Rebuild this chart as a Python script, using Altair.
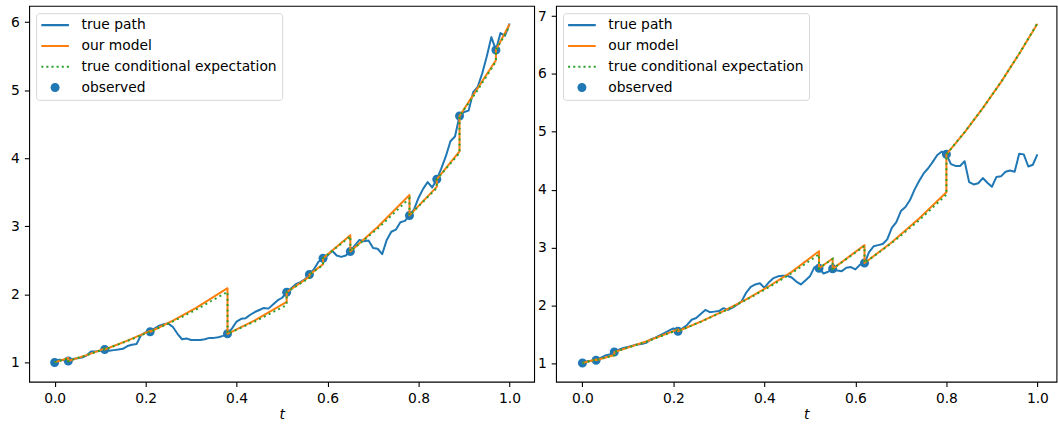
import altair as alt
import pandas as pd

# ---------------- data ----------------
T_GRID = [round(i * 0.01, 2) for i in range(101)]

LEFT_PATH = [1.00, 1.04, 1.03, 1.02, 1.05, 1.06, 1.07, 1.10, 1.16, 1.16,
             1.17, 1.19, 1.17, 1.18, 1.19, 1.20, 1.24, 1.26, 1.27, 1.40,
             1.44, 1.45, 1.50, 1.54, 1.56, 1.57, 1.52, 1.42, 1.34, 1.35,
             1.33, 1.33, 1.33, 1.34, 1.36, 1.36, 1.37, 1.39, 1.42, 1.50,
             1.60, 1.64, 1.65, 1.70, 1.74, 1.77, 1.80, 1.79, 1.85, 1.91,
             1.95, 2.03, 2.09, 2.15, 2.18, 2.22, 2.29, 2.37, 2.48, 2.53,
             2.57, 2.64, 2.57, 2.55, 2.57, 2.63, 2.72, 2.80, 2.78, 2.79,
             2.68, 2.67, 2.59, 2.80, 2.92, 2.95, 3.06, 3.08, 3.16, 3.25,
             3.42, 3.55, 3.65, 3.57, 3.69, 3.85, 4.03, 4.25, 4.32, 4.62,
             4.68, 4.70, 4.97, 5.05, 5.25, 5.50, 5.78, 5.59, 5.84, 5.80,
             5.98]
LEFT_OBS_T = [0.0, 0.03, 0.11, 0.21, 0.38, 0.51, 0.56, 0.59, 0.65, 0.78, 0.84, 0.89, 0.97]
LEFT_OBS_V = [1.00, 1.02, 1.19, 1.45, 1.42, 2.03, 2.29, 2.53, 2.63, 3.16, 3.69, 4.62, 5.59]
LEFT_SEG_T = [0.0, 0.03, 0.03, 0.07, 0.11, 0.11, 0.16, 0.21, 0.21, 0.26, 0.31, 0.38,
              0.38, 0.44, 0.51, 0.51, 0.56, 0.56, 0.59, 0.59, 0.65, 0.65, 0.71, 0.78,
              0.78, 0.84, 0.84, 0.89, 0.89, 0.93, 0.97, 0.97, 1.0]
LEFT_MODEL = [1.0, 1.065, 1.02, 1.107, 1.202, 1.19, 1.32, 1.462, 1.45, 1.615, 1.798, 2.09,
              1.42, 1.616, 1.89, 2.03, 2.26, 2.29, 2.443, 2.53, 2.87, 2.63, 2.99, 3.46,
              3.16, 3.58, 3.69, 4.10, 4.62, 5.03, 5.44, 5.59, 5.97]
LEFT_COND = [1.0, 1.062, 1.02, 1.105, 1.197, 1.19, 1.315, 1.453, 1.45, 1.602, 1.771, 2.037,
             1.42, 1.601, 1.842, 2.03, 2.243, 2.29, 2.432, 2.53, 2.853, 2.63, 2.965, 3.411,
             3.16, 3.563, 3.69, 4.078, 4.62, 5.005, 5.422, 5.59, 5.936]

RIGHT_PATH = [1.00, 1.03, 1.04, 1.05, 1.09, 1.13, 1.15, 1.19, 1.23, 1.26,
              1.28, 1.30, 1.32, 1.33, 1.35, 1.41, 1.44, 1.48, 1.52, 1.56,
              1.60, 1.55, 1.60, 1.66, 1.75, 1.78, 1.85, 1.92, 1.88, 1.89,
              1.90, 1.95, 1.92, 1.96, 2.01, 2.07, 2.22, 2.32, 2.36, 2.38,
              2.30, 2.40, 2.47, 2.50, 2.51, 2.51, 2.48, 2.41, 2.36, 2.43,
              2.50, 2.66, 2.64, 2.55, 2.58, 2.63, 2.60, 2.59, 2.65, 2.66,
              2.62, 2.70, 2.73, 2.92, 3.02, 3.04, 3.06, 3.14, 3.34, 3.44,
              3.63, 3.70, 3.82, 4.00, 4.15, 4.28, 4.37, 4.48, 4.60, 4.66,
              4.61, 4.44, 4.41, 4.41, 4.49, 4.13, 4.09, 4.11, 4.20, 4.12,
              4.05, 4.22, 4.23, 4.31, 4.33, 4.31, 4.62, 4.61, 4.40, 4.43,
              4.61]
RIGHT_OBS_T = [0.0, 0.03, 0.07, 0.21, 0.52, 0.55, 0.62, 0.80]
RIGHT_OBS_V = [1.00, 1.05, 1.19, 1.55, 2.64, 2.63, 2.73, 4.61]
RIGHT_SEG_T = [0.0, 0.03, 0.03, 0.07, 0.07, 0.14, 0.21, 0.21, 0.26, 0.31, 0.36, 0.41, 0.46,
               0.52, 0.52, 0.55, 0.55, 0.62, 0.62, 0.68, 0.74, 0.80, 0.80, 0.84, 0.88,
               0.92, 0.96, 1.0]
RIGHT_MODEL = [1.0, 1.063, 1.05, 1.139, 1.19, 1.373, 1.583, 1.55, 1.716, 1.900, 2.103, 2.329,
               2.578, 2.935, 2.64, 2.808, 2.63, 3.04, 2.73, 3.09, 3.50, 3.955, 4.61, 4.99,
               5.41, 5.86, 6.35, 6.87]
RIGHT_COND = [1.0, 1.062, 1.05, 1.137, 1.19, 1.369, 1.575, 1.55, 1.713, 1.893, 2.092, 2.312,
              2.556, 2.881, 2.64, 2.803, 2.63, 3.024, 2.73, 3.078, 3.470, 3.913, 4.61, 4.994,
              5.410, 5.861, 6.348, 6.877]

SERIES = ["true path", "our model", "true conditional expectation", "observed"]
X_TICKS = [0.0, 0.2, 0.4, 0.6, 0.8, 1.0]

BLUE, ORANGE, GREEN = "#1f77b4", "#ff7f0e", "#2ca02c"
COLORS = [BLUE, ORANGE, GREEN, BLUE]

# legend / marker glyphs (unit coordinates, scaled by sqrt(size)/2)
LINE_GLYPH = "M-1,-0.075H1V0.075H-1Z"
DOT_GLYPH = "".join(
    f"M{c - 0.075:.3f},-0.075H{c + 0.075:.3f}V0.075H{c - 0.075:.3f}Z"
    for c in [-0.925, -0.555, -0.185, 0.185, 0.555, 0.925]
)
R = 0.325
K = round(0.5523 * R, 4)
CIRCLE_GLYPH = (f"M{R},0C{R},{K},{K},{R},0,{R}C{-K},{R},{-R},{K},{-R},0"
                f"C{-R},{-K},{-K},{-R},0,{-R}C{K},{-R},{R},{-K},{R},0Z")
SHAPES = [LINE_GLYPH, LINE_GLYPH, DOT_GLYPH, CIRCLE_GLYPH]
SYM_SIZE = 773

FONT = "DejaVu Sans"
FS = 13.9


def panel(path_v, obs_t, obs_v, seg_t, model_v, cond_v, xdom, ydom, yticks, width, height):
    path_df = pd.DataFrame({"t": T_GRID, "v": path_v, "i": list(range(len(path_v)))})
    obs_df = pd.DataFrame({"t": obs_t, "v": obs_v, "series": ["observed"] * len(obs_t)})
    model_df = pd.DataFrame({"t": seg_t, "v": model_v, "i": list(range(len(seg_t)))})
    cond_df = pd.DataFrame({"t": seg_t, "v": cond_v, "i": list(range(len(seg_t)))})

    x = alt.X("t:Q", scale=alt.Scale(domain=xdom, nice=False, zero=False),
              axis=alt.Axis(values=X_TICKS, format=".1f", title="t", labelFlush=False))
    y = alt.Y("v:Q", scale=alt.Scale(domain=ydom, nice=False, zero=False),
              axis=alt.Axis(values=yticks, format="d", title=None))

    leg = alt.Legend(title=None, orient="none", legendX=7, legendY=7.4,
                     padding=5, rowPadding=6.9, clipHeight=14,
                     symbolSize=SYM_SIZE, symbolStrokeWidth=0, symbolOffset=0,
                     labelFont=FONT, labelFontSize=FS, labelColor="black",
                     labelLimit=400, labelOffset=12.5,
                     fillColor="rgba(255,255,255,0.8)",
                     strokeColor="rgba(204,204,204,0.8)", cornerRadius=3)

    pts = alt.Chart(obs_df).mark_point(filled=True, opacity=1, size=SYM_SIZE, strokeWidth=0).encode(
        x=x, y=y,
        color=alt.Color("series:N", scale=alt.Scale(domain=SERIES, range=COLORS), legend=leg),
        shape=alt.Shape("series:N", scale=alt.Scale(domain=SERIES, range=SHAPES), legend=leg),
    )
    path = alt.Chart(path_df).mark_line(color=BLUE, strokeWidth=2, strokeJoin="round").encode(
        x=x, y=y, order="i:Q")
    model = alt.Chart(model_df).mark_line(color=ORANGE, strokeWidth=2, strokeJoin="round").encode(
        x=x, y=y, order="i:Q")
    cond = alt.Chart(cond_df).mark_line(color=GREEN, strokeWidth=2, strokeDash=[2, 3.4]).encode(
        x=x, y=y, order="i:Q")
    return alt.layer(pts, path, model, cond).properties(width=width, height=height)


left = panel(LEFT_PATH, LEFT_OBS_T, LEFT_OBS_V, LEFT_SEG_T, LEFT_MODEL, LEFT_COND,
             [-0.056, 1.054], [0.716, 6.240], [1, 2, 3, 4, 5, 6], 507, 377.4)
right = panel(RIGHT_PATH, RIGHT_OBS_T, RIGHT_OBS_V, RIGHT_SEG_T, RIGHT_MODEL, RIGHT_COND,
              [-0.058, 1.042], [0.678, 7.179], [1, 2, 3, 4, 5, 6, 7], 502.5, 377.4)

chart = alt.hconcat(left, right, spacing=1,
                    padding={"left": 9.3, "top": 4, "right": 0, "bottom": 0}
                    ).resolve_scale(color="independent", shape="independent"
                    ).resolve_legend(color="independent", shape="independent"
                    ).configure(font=FONT
                    ).configure_view(stroke="black", strokeWidth=1.1
                    ).configure_axis(grid=False, domain=False, tickColor="black", tickSize=4.86,
                                     tickWidth=1.1, labelColor="black", labelFont=FONT,
                                     labelFontSize=FS, labelPadding=5, titleFont=FONT,
                                     titleFontSize=FS, titleFontWeight="normal", titleColor="black"
                    ).configure_axisX(titleFontStyle="italic", titlePadding=2)

chart.save("out.html", embed_options={"renderer": "svg", "actions": False})
